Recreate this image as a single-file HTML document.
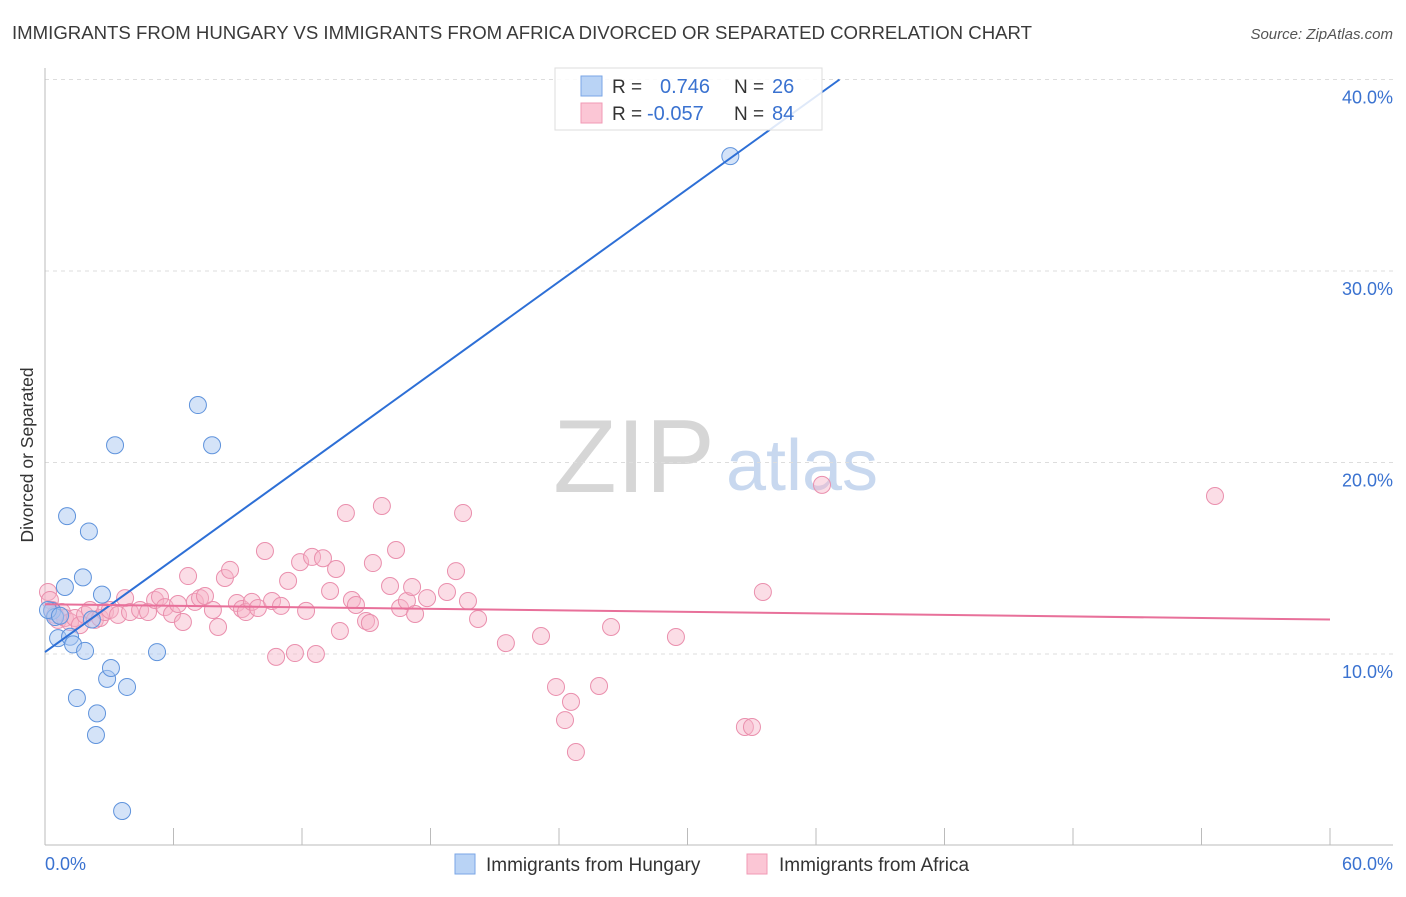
<!DOCTYPE html>
<html><head><meta charset="utf-8"><style>
body{margin:0;background:#fff;}
svg text{font-family:"Liberation Sans",sans-serif;}
</style></head><body>
<svg id="chart" width="1406" height="892" xmlns="http://www.w3.org/2000/svg">
<text x="12" y="39" font-size="18.3" fill="#3a3a3a" textLength="1020" lengthAdjust="spacingAndGlyphs">IMMIGRANTS FROM HUNGARY VS IMMIGRANTS FROM AFRICA DIVORCED OR SEPARATED CORRELATION CHART</text>
<text x="1393" y="39" font-size="15" fill="#555" font-style="italic" text-anchor="end">Source: ZipAtlas.com</text>
<text transform="translate(33,455) rotate(-90)" font-size="17.5" fill="#333" text-anchor="middle">Divorced or Separated</text>
<g>
<text x="634" y="492" font-size="104" font-family="Liberation Serif,serif" fill="#d6d6d6" text-anchor="middle">ZIP</text>
<text x="802" y="490" font-size="72" fill="#c8d8ef" text-anchor="middle">atlas</text>
</g>
<g id="grid"></g>
<g id="axes"></g>
<g id="marks"></g>
<g id="lines"></g>
<g>
<rect x="555" y="68" width="267" height="62" fill="#fff" fill-opacity="0.85" stroke="#ddd"/>
<rect x="581" y="76" width="21" height="20" fill="#b9d3f5" stroke="#7aa6e6"/>
<rect x="581" y="103" width="21" height="20" fill="#fbc6d5" stroke="#f09ab5"/>
<text x="612" y="93" font-size="19" fill="#333">R =</text>
<text x="660" y="93" font-size="20" fill="#3a72d0">0.746</text>
<text x="734" y="93" font-size="19" fill="#333">N =</text>
<text x="772" y="93" font-size="20" fill="#3a72d0">26</text>
<text x="612" y="120" font-size="19" fill="#333">R =</text>
<text x="647" y="120" font-size="20" fill="#3a72d0">-0.057</text>
<text x="734" y="120" font-size="19" fill="#333">N =</text>
<text x="772" y="120" font-size="20" fill="#3a72d0">84</text>
</g>
<g>
<rect x="455" y="854" width="20" height="20" fill="#b9d3f5" stroke="#7aa6e6"/>
<text x="486" y="871" font-size="19" fill="#333">Immigrants from Hungary</text>
<rect x="747" y="854" width="20" height="20" fill="#fbc6d5" stroke="#f09ab5"/>
<text x="779" y="871" font-size="19" fill="#333">Immigrants from Africa</text>
</g>
</svg>
<script>
const yTicks=[10,20,30,40];
const yTickLabels=["10.0%","20.0%","30.0%","40.0%"];
const xTicks=[0,6,12,18,24,30,36,42,48,54,60];
const hungaryX=[0.33,0.47,0.61,0.93,1.03,1.17,1.31,1.49,1.77,1.87,2.05,2.19,2.43,2.38,2.66,2.9,3.08,3.27,3.6,3.83,5.23,7.14,7.8,32.0,0.14,0.7];
const hungaryY=[12.25,11.93,10.83,13.5,17.2,10.9,10.5,7.7,14.0,10.16,16.4,11.8,6.9,5.77,13.1,8.7,9.27,20.9,1.8,8.28,10.1,23.0,20.9,36.0,12.3,12.0];
const africaX=[0.14,0.23,0.33,0.47,0.61,0.79,0.93,1.17,1.4,1.63,1.87,2.1,2.33,2.57,2.8,3.03,3.41,3.74,3.97,4.44,4.81,5.14,5.37,5.6,5.93,6.21,6.44,6.68,7.0,7.24,7.47,7.84,8.08,8.4,8.64,8.96,9.2,9.38,9.66,9.94,10.27,10.6,10.79,11.02,11.35,11.67,11.91,12.19,12.47,12.65,12.98,13.31,13.59,13.77,14.05,14.33,14.52,14.99,15.17,15.31,15.73,16.11,16.39,16.58,16.9,17.14,17.28,17.84,18.77,19.19,19.52,19.75,20.22,21.52,23.16,23.86,24.28,24.56,24.79,25.87,26.43,29.46,32.68,33.01,33.52,36.28,54.63];
const africaY=[13.24,12.82,12.3,12.04,11.78,12.19,11.88,11.67,11.88,11.51,12.04,12.3,11.78,11.88,12.19,12.3,12.04,12.92,12.19,12.3,12.19,12.82,12.98,12.45,12.09,12.61,11.67,14.07,12.72,12.92,13.03,12.3,11.41,13.97,14.39,12.66,12.35,12.19,12.72,12.4,15.38,12.77,9.85,12.51,13.82,10.05,14.8,12.25,15.07,10.0,15.0,13.29,14.44,11.2,17.36,12.82,12.56,11.72,11.62,14.75,17.73,13.55,15.43,12.4,12.77,13.5,12.09,12.92,13.24,14.33,17.36,12.77,11.83,10.57,10.94,8.28,6.55,7.5,4.88,8.33,11.41,10.89,6.19,6.19,13.24,18.83,18.25];
const hungaryTrend=[[0,10.1],[37.1,40]];
const africaTrend=[[0,12.6],[60,11.8]];
const NS="http://www.w3.org/2000/svg";
const xs=v=>45+v/60*1285;
const ys=v=>845.5-v*19.15;
function mk(tag,attrs,parent){const e=document.createElementNS(NS,tag);for(const k in attrs)e.setAttribute(k,attrs[k]);parent.appendChild(e);return e;}
const grid=document.getElementById('grid'),axes=document.getElementById('axes'),marks=document.getElementById('marks'),lines=document.getElementById('lines');
yTicks.forEach((t,i)=>{
 const l=mk('line',{x1:45,x2:1393,y1:ys(t),y2:ys(t),stroke:'#ddd','stroke-dasharray':'4,4'},grid);
 
 
 const tx=mk('text',{x:1393,y:ys(t)+24,'font-size':18,fill:'#3a72d0','text-anchor':'end'},axes);
 tx.textContent=yTickLabels[i];
 
 
});
const ax=mk('line',{x1:45,x2:1393,y1:845,y2:845,stroke:'#bbb'},axes);


const ay=mk('line',{x1:45,x2:45,y1:68,y2:845,stroke:'#bbb'},axes);


xTicks.forEach(t=>{
 const l=mk('line',{x1:xs(t),x2:xs(t),y1:828,y2:845,stroke:'#bbb'},axes);
 
 
});
const xl0=mk('text',{x:45,y:870,'font-size':18,fill:'#3a72d0'},axes);xl0.textContent='0.0%';


const xl1=mk('text',{x:1393,y:870,'font-size':18,fill:'#3a72d0','text-anchor':'end'},axes);xl1.textContent='60.0%';


africaX.forEach((x,i)=>{
 const c=mk('circle',{cx:xs(x),cy:ys(africaY[i]),r:8.5,fill:'#f7b3c8','fill-opacity':0.45,stroke:'#ea8fad','stroke-width':1},marks);
 
 
});
hungaryX.forEach((x,i)=>{
 const c=mk('circle',{cx:xs(x),cy:ys(hungaryY[i]),r:8.5,fill:'#a9c8f2','fill-opacity':0.5,stroke:'#5f93dc','stroke-width':1},marks);
 
 
});
const lh=mk('line',{x1:xs(hungaryTrend[0][0]),y1:ys(hungaryTrend[0][1]),x2:xs(hungaryTrend[1][0]),y2:ys(hungaryTrend[1][1]),stroke:'#2d6fd6','stroke-width':2},lines);


const la=mk('line',{x1:xs(africaTrend[0][0]),y1:ys(africaTrend[0][1]),x2:xs(africaTrend[1][0]),y2:ys(africaTrend[1][1]),stroke:'#e8709a','stroke-width':2},lines);


</script>
</body></html>
